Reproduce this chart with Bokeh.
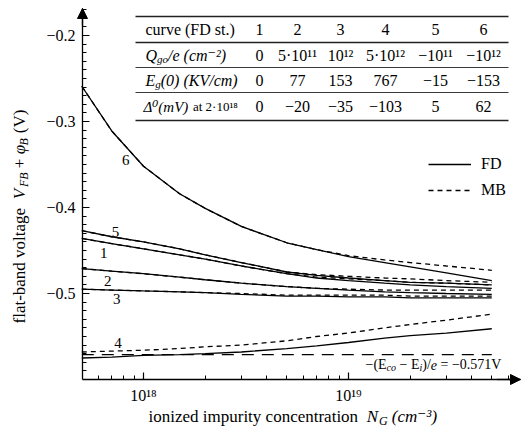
import math
from bokeh.plotting import figure
from bokeh.models import (Range1d, SingleIntervalTicker, LogTicker, CustomJSTickFormatter,
                          Label, Arrow, NormalHead, Legend, LegendItem)
from bokeh.core.properties import value
from bokeh.embed import file_html
from bokeh.resources import INLINE

# ---------------- data ----------------
N_G = [5e17, 7e17, 1e18, 1.5e18, 2e18, 3e18, 5e18, 7e18, 1e19, 1.5e19, 2e19, 3e19, 5e19]

fd_1 = [-0.436, -0.442, -0.448, -0.455, -0.460, -0.468, -0.477, -0.482, -0.485, -0.488, -0.490, -0.492, -0.494]
mb_1 = [-0.436, -0.442, -0.448, -0.455, -0.460, -0.468, -0.477, -0.481, -0.483, -0.485, -0.487, -0.488, -0.490]
fd_2 = [-0.471, -0.474, -0.477, -0.481, -0.484, -0.488, -0.492, -0.494, -0.496, -0.498, -0.499, -0.500, -0.501]
mb_2 = [-0.471, -0.474, -0.477, -0.481, -0.484, -0.488, -0.492, -0.494, -0.495, -0.496, -0.496, -0.496, -0.496]
fd_3 = [-0.495, -0.496, -0.497, -0.498, -0.499, -0.501, -0.503, -0.503, -0.504, -0.504, -0.505, -0.505, -0.505]
mb_3 = [-0.495, -0.496, -0.497, -0.498, -0.499, -0.500, -0.502, -0.502, -0.502, -0.502, -0.503, -0.503, -0.503]
fd_4 = [-0.575, -0.574, -0.572, -0.571, -0.570, -0.568, -0.564, -0.561, -0.557, -0.552, -0.549, -0.546, -0.541]
mb_4 = [-0.568, -0.567, -0.566, -0.564, -0.562, -0.560, -0.555, -0.550, -0.546, -0.540, -0.536, -0.531, -0.524]
fd_5 = [-0.427, -0.434, -0.440, -0.448, -0.455, -0.464, -0.475, -0.479, -0.482, -0.485, -0.487, -0.488, -0.490]
mb_5 = [-0.427, -0.434, -0.440, -0.448, -0.455, -0.464, -0.475, -0.478, -0.480, -0.482, -0.483, -0.485, -0.487]
fd_6 = [-0.259, -0.311, -0.352, -0.384, -0.401, -0.422, -0.441, -0.449, -0.457, -0.464, -0.469, -0.476, -0.485]
mb_6 = [-0.259, -0.311, -0.352, -0.384, -0.401, -0.422, -0.441, -0.449, -0.456, -0.461, -0.464, -0.468, -0.473]

E_ref = -0.571  # -(Eco - Ei)/e

curve_names = ["6", "5", "1", "2", "3", "4"]
curve_lab_x = [8.2e17, 7.3e17, 6.4e17, 6.7e17, 7.4e17, 7.5e17]
curve_lab_y = [-0.345, -0.428, -0.453, -0.485, -0.506, -0.558]

x_ticks = [1e18, 1e19]
x_tick_labels = ["10¹⁸", "10¹⁹"]
y_ticks = [-0.6, -0.5, -0.4, -0.3, -0.2]
y_tick_labels = ["−0.6", "−0.5", "−0.4", "−0.3", "−0.2"]

table_header = ["1", "2", "3", "4", "5", "6"]
table_Q = ["0", "5·10¹¹", "10¹²", "5·10¹²", "−10¹¹", "−10¹²"]
table_E = ["0", "77", "153", "767", "−15", "−153"]
table_D = ["0", "−20", "−35", "−103", "5", "62"]

legend_labels = ["FD", "MB"]

# ---------------- layout constants ----------------
FONT = "'Liberation Serif', 'DejaVu Serif', serif"
W_PX, H_PX = 525, 432
LX0, LX1 = 17.3024, 19.8634
Y0, Y1 = -0.66163, -0.15930
AX_X_LO, AX_X_HI = 10 ** 17.7024, 10 ** 19.839
AX_Y_LO, AX_Y_HI = -0.6, -0.1686

p = figure(width=W_PX, height=H_PX, x_axis_type="log",
           x_range=Range1d(10 ** LX0, 10 ** LX1), y_range=Range1d(Y0, Y1),
           output_backend="svg", toolbar_location=None, title=None,
           min_border_left=0, min_border_right=0, min_border_top=0, min_border_bottom=0)
p.xgrid.visible = False
p.ygrid.visible = False
p.outline_line_color = None
p.background_fill_color = "white"
p.border_fill_color = "white"

fmt_code = """
let best = 0, bd = Infinity;
for (let i = 0; i < tvals.length; i++) {
  const d = Math.abs(tvals[i] - tick) / Math.abs(tvals[i]);
  if (d < bd) { bd = d; best = i; }
}
return bd < 1e-3 ? tlabs[best] : "";
"""
xa = p.xaxis[0]
ya = p.yaxis[0]
xa.ticker = LogTicker(num_minor_ticks=10)
xa.formatter = CustomJSTickFormatter(args=dict(tvals=x_ticks, tlabs=x_tick_labels), code=fmt_code)
ya.ticker = SingleIntervalTicker(interval=0.1, num_minor_ticks=10)
ya.formatter = CustomJSTickFormatter(args=dict(tvals=y_ticks, tlabs=y_tick_labels), code=fmt_code)
xa.fixed_location = AX_Y_LO
ya.fixed_location = AX_X_LO
xa.bounds = (AX_X_LO, AX_X_HI)
ya.bounds = (AX_Y_LO, AX_Y_HI)

for ax in (xa, ya):
    ax.axis_line_color = "black"
    ax.axis_line_width = 1.3
    ax.major_tick_in = 7
    ax.major_tick_out = 0
    ax.minor_tick_in = 4
    ax.minor_tick_out = 0
    ax.major_tick_line_color = "black"
    ax.minor_tick_line_color = "black"
    ax.major_tick_line_width = 1.2
    ax.minor_tick_line_width = 1.0
    ax.major_label_text_font = FONT
    ax.major_label_text_font_size = "16px"
    ax.major_label_text_color = "black"
ya.major_label_standoff = 7
xa.major_label_standoff = 8

# axis arrows
p.add_layout(Arrow(end=NormalHead(size=10, fill_color="black", line_color="black"),
                   x_start=AX_X_HI / 1.3, y_start=AX_Y_LO, x_end=AX_X_HI, y_end=AX_Y_LO,
                   line_color="black", line_width=1.3))
p.add_layout(Arrow(end=NormalHead(size=10, fill_color="black", line_color="black"),
                   x_start=AX_X_LO, y_start=AX_Y_HI - 0.02, x_end=AX_X_LO, y_end=AX_Y_HI,
                   line_color="black", line_width=1.3))

# ---------------- curves ----------------
LW = 1.3
DASH = "5 4"
fd_series = [fd_1, fd_2, fd_3, fd_4, fd_5, fd_6]
mb_series = [mb_1, mb_2, mb_3, mb_4, mb_5, mb_6]
r_fd = []
r_mb = []
for fd, mb in zip(fd_series, mb_series):
    r_mb.append(p.line(N_G, mb, line_color="black", line_width=LW, line_dash=DASH))
    r_fd.append(p.line(N_G, fd, line_color="black", line_width=LW))

p.line([N_G[0], N_G[-1]], [E_ref, E_ref], line_color="black", line_width=1.2, line_dash="12 8")

p.text(curve_lab_x, curve_lab_y, text=curve_names, text_font=value(FONT),
       text_font_size="15px", text_align="center", text_baseline="middle", text_color="black")

# ---------------- rich text helper (screen px, origin bottom-left) ----------------
W = {' ': 250, '(': 333, ')': 333, '/': 278, '-': 333, '−': 564, '+': 564, '=': 564, '.': 250,
     '·': 250, ',': 250, 'a': 444, 'b': 500, 'c': 444, 'd': 500, 'e': 444, 'f': 333, 'g': 500,
     'h': 500, 'i': 278, 'j': 278, 'k': 500, 'l': 278, 'm': 778, 'n': 500, 'o': 500, 'p': 500,
     'q': 500, 'r': 333, 's': 389, 't': 278, 'u': 500, 'v': 500, 'w': 722, 'x': 500, 'y': 500,
     'z': 444, 'A': 722, 'B': 667, 'C': 667, 'D': 722, 'E': 611, 'F': 556, 'G': 722, 'K': 722,
     'M': 889, 'N': 722, 'Q': 722, 'V': 722, 'φ': 520, 'Δ': 612,
     '⁰': 300, '¹': 300, '²': 300, '³': 300, '⁻': 330}


def tw(s, size):
    return sum(W.get(ch, 500) for ch in s) * size / 1000.0


def rich(pieces, x0, y0, angle=0.0, baseline="alphabetic"):
    adv = 0.0
    for text, size, dy, style in pieces:
        stripped = text.lstrip(" ")
        adv += tw(text[:len(text) - len(stripped)], size)
        if stripped.strip():
            if angle == 0.0:
                lx, ly = x0 + adv, y0 + dy
            else:
                lx, ly = x0 - dy, y0 + adv
            p.add_layout(Label(x=lx, y=ly, x_units="screen", y_units="screen", text=stripped,
                               angle=angle, text_font=FONT, text_font_size=f"{size}px",
                               text_font_style=style, text_align="left", text_baseline=baseline,
                               text_color="black"))
        adv += tw(stripped, size)


def center_label(text, x, y, size=14, style="normal"):
    p.add_layout(Label(x=x, y=y, x_units="screen", y_units="screen", text=text,
                       text_font=FONT, text_font_size=f"{size}px", text_font_style=style,
                       text_align="center", text_baseline="middle", text_color="black"))


def hrule(y, x0, x1, width=1.0):
    p.add_layout(Arrow(end=None, start=None, x_start=x0, y_start=y, x_end=x1, y_end=y,
                       start_units="screen", end_units="screen",
                       line_color="#222222", line_width=width))


def sy(py):
    return H_PX - py


# axis titles
rich([("flat-band voltage", 17, 0, "normal"), ("  ", 17, 0, "normal"),
      ("V", 17, 0, "italic"), ("FB", 12, -4, "italic"), (" + ", 17, 0, "normal"),
      ("φ", 17, 0, "italic"), ("B", 12, -4, "italic"), (" (V)", 17, 0, "normal")],
     19, sy(323), angle=math.pi / 2, baseline="middle")
rich([("ionized impurity concentration", 17, 0, "normal"), ("  ", 17, 0, "normal"),
      ("N", 17, 0, "italic"), ("G", 12, -4, "italic"), (" (cm⁻³)", 17, 0, "italic")],
     148, sy(416))

# reference level annotation
rich([("−(E", 14, 0, "normal"), ("co", 10, -3, "italic"), (" − E", 14, 0, "normal"),
      ("i", 10, -3, "italic"), (")/", 14, 0, "normal"), ("e", 14, 0, "italic"),
      (" = " + ("−" if E_ref < 0 else "") + f"{abs(E_ref):.3f}V", 14, 0, "normal")],
     365, sy(364))

# ---------------- table ----------------
rules_py = [16, 42, 67, 92, 120]
for i, ry in enumerate(rules_py):
    hrule(sy(ry), 135, 508, 1.3 if i in (0, 1, 4) else 0.9)
rows_py = [29, 55, 80, 106]
cols_px = [259, 297, 340, 385, 435, 483]
LX = 145
TS = 16
rich([("curve  (FD st.)", TS, 0, "normal")], LX, sy(rows_py[0]), baseline="middle")
rich([("Q", TS, 0, "italic"), ("go", 11, -3, "italic"), ("/e (cm⁻²)", TS, 0, "italic")],
     LX, sy(rows_py[1]), baseline="middle")
rich([("E", TS, 0, "italic"), ("g", 11, -3, "italic"), ("(0) (KV/cm)", TS, 0, "italic")],
     LX, sy(rows_py[2]), baseline="middle")
rich([("Δ⁰(mV)", 15, 0, "italic"), (" at 2·10¹⁸", 13, 0, "normal")], LX - 2, sy(rows_py[3]),
     baseline="middle")
for row, ry in zip([table_header, table_Q, table_E, table_D], rows_py):
    for txt, cx in zip(row, cols_px):
        center_label(txt, cx, sy(ry), TS)

# ---------------- legend ----------------
legend = Legend(items=[LegendItem(label=legend_labels[0], renderers=[r_fd[5]]),
                       LegendItem(label=legend_labels[1], renderers=[r_mb[5]])],
                location=(428, sy(200)), glyph_width=43, glyph_height=20, label_height=20,
                spacing=6, padding=10, margin=0, label_standoff=10,
                border_line_color=None, background_fill_alpha=0,
                label_text_font=FONT, label_text_font_size="16px", label_text_color="black")
p.add_layout(legend)

open("out.html", "w").write(file_html(p, INLINE))
